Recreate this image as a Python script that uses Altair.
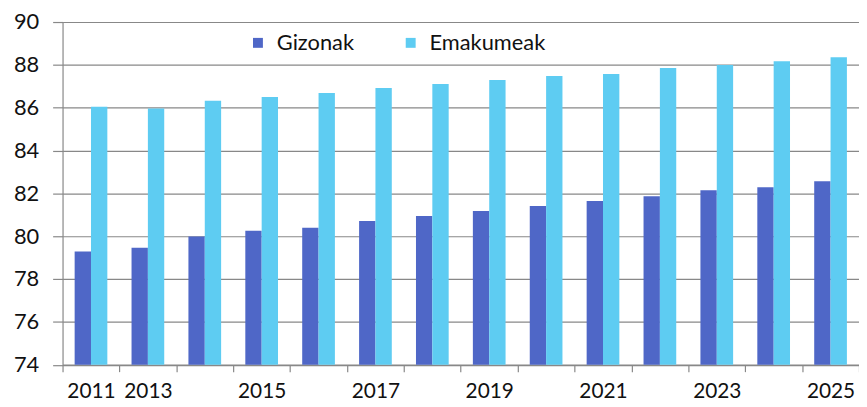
import altair as alt
import pandas as pd

years = ["2011", "2013", "2014", "2015", "2016", "2017", "2018", "2019",
         "2020", "2021", "2022", "2023", "2024", "2025"]
gizonak = [79.28, 79.46, 79.99, 80.26, 80.39, 80.71, 80.94, 81.18,
           81.41, 81.64, 81.87, 82.15, 82.29, 82.57]
emakumeak = [86.04, 85.96, 86.32, 86.50, 86.69, 86.92, 87.11, 87.29,
             87.48, 87.57, 87.85, 87.99, 88.17, 88.36]
series = ["Gizonak", "Emakumeak"]
colors = ["#4F67C7", "#5ECCF2"]
y_ticks = [74, 76, 78, 80, 82, 84, 86, 88, 90]

rows = []
for i, yr in enumerate(years):
    rows.append({"urtea": yr, "sexua": series[0], "balioa": gizonak[i]})
    rows.append({"urtea": yr, "sexua": series[1], "balioa": emakumeak[i]})
df = pd.DataFrame(rows)

FONT = "Lato"

chart = alt.Chart(df).mark_bar().encode(
    x=alt.X("urtea:N", sort=years, title=None,
            scale=alt.Scale(paddingInner=0, paddingOuter=0),
            axis=alt.Axis(labelAngle=0, grid=False, tickBand="extent",
                          labelExpr="datum.value % 2 == 1 ? datum.label : ''",
                          domainColor="#888888", tickColor="#888888",
                          tickSize=7, domainWidth=1.2, tickWidth=1.2,
                          labelPadding=9, labelFontSize=21, labelFont=FONT,
                          labelColor="#111111")),
    xOffset=alt.XOffset("sexua:N", sort=series,
                        scale=alt.Scale(paddingInner=0, paddingOuter=0.74)),
    y=alt.Y("balioa:Q", title=None,
            scale=alt.Scale(domain=[74, 90], zero=False, nice=False),
            axis=alt.Axis(values=y_ticks, grid=True, gridColor="#888888",
                          gridWidth=1.2, domainColor="#888888", domainWidth=1.2,
                          tickColor="#888888", tickSize=10, tickWidth=1.2,
                          labelPadding=14, labelFontSize=22, labelFont=FONT,
                          labelColor="#111111")),
    y2=alt.datum(74),
    color=alt.Color("sexua:N", sort=series,
                    scale=alt.Scale(domain=series, range=colors),
                    legend=alt.Legend(title=None, orient="none", direction="horizontal",
                                      legendX=186, legendY=10,
                                      symbolType="square", symbolSize=100,
                                      symbolStrokeWidth=0, labelFontSize=22,
                                      labelFont=FONT, labelColor="#111111",
                                      labelOffset=8, columnPadding=46)),
).properties(
    width=803, height=345.5,
    padding={"left": 55, "top": 12.5, "right": 0, "bottom": 41},
    autosize=alt.AutoSizeParams(type="none"),
).configure_view(stroke=None)

chart.save("out.html", embed_options={"renderer": "svg", "actions": False})
